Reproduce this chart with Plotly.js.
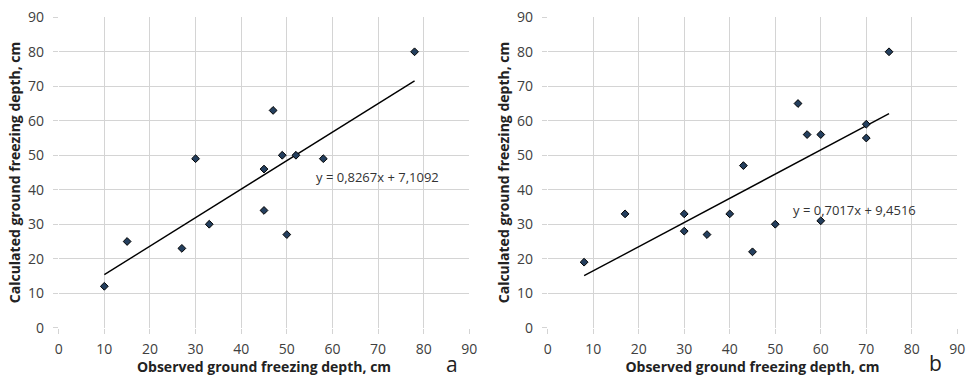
<!DOCTYPE html>
<html>
<head>
<meta charset="utf-8">
<script src="https://cdn.plot.ly/plotly-3.0.1.min.js"></script>
<style>html,body{margin:0;padding:0;background:#fff;}#chart{width:970px;height:381px;}</style>
</head>
<body>
<div id="chart"></div>
<script>
// Panel a data
const obsA = [10, 15, 27, 30, 33, 45, 45, 47, 49, 52, 50, 58, 78];
const calcA = [12, 25, 23, 49, 30, 46, 34, 63, 50, 50, 27, 49, 80];
const trendA = {slope: 0.8267, intercept: 7.1092, xFrom: 10, xTo: 78};
const eqA = "y = 0,8267x + 7,1092";

// Panel b data
const obsB = [8, 17, 30, 30, 35, 40, 43, 45, 50, 55, 57, 60, 60, 70, 70, 75];
const calcB = [19, 33, 33, 28, 27, 33, 47, 22, 30, 65, 56, 56, 31, 59, 55, 80];
const trendB = {slope: 0.7017, intercept: 9.4516, xFrom: 8, xTo: 75};
const eqB = "y = 0,7017x + 9,4516";

const tickVals = [0, 10, 20, 30, 40, 50, 60, 70, 80, 90];
const xTitle = "Observed ground freezing depth, cm";
const yTitle = "Calculated ground freezing depth, cm";
const panelLabels = ["a", "b"];

const FONT = "Open Sans, Liberation Sans, sans-serif";
const marker = {symbol: "diamond", size: 6, color: "#243f5e", line: {color: "#000", width: 1}};

function trendLine(t, xa, ya) {
  const xs = [t.xFrom, t.xTo];
  return {x: xs, y: xs.map(v => t.slope * v + t.intercept), mode: "lines",
    line: {color: "#000", width: 1.4}, xaxis: xa, yaxis: ya, hoverinfo: "skip"};
}

const data = [
  trendLine(trendA, "x", "y"),
  {x: obsA, y: calcA, mode: "markers", marker: marker, xaxis: "x", yaxis: "y"},
  trendLine(trendB, "x2", "y2"),
  {x: obsB, y: calcB, mode: "markers", marker: marker, xaxis: "x2", yaxis: "y2"}
];

function ax(domain, anchor, title, standoff, lblStandoff) {
  return {
    domain: domain, anchor: anchor, range: [0, 90], tickvals: tickVals, ticktext: tickVals.map(String),
    showgrid: true, gridcolor: "#d4d4d4", gridwidth: 1, zeroline: false, showline: false,
    ticks: "outside", ticklen: 5, tickcolor: "#d4d4d4", ticklabelstandoff: lblStandoff,
    tickfont: {family: FONT, size: 14, color: "#404040"},
    title: {text: title, font: {family: FONT, size: 14, color: "#222", weight: "bold"}, standoff: standoff},
    fixedrange: true
  };
}

const yDom = [1 - 327.7 / 381, 1 - 17.3 / 381];
const layout = {
  width: 970, height: 381, margin: {l: 0, r: 0, t: 0, b: 0},
  paper_bgcolor: "#fff", plot_bgcolor: "#fff", showlegend: false,
  xaxis: ax([58.7 / 970, 469.3 / 970], "y", xTitle, 4, 3),
  yaxis: ax(yDom, "x", yTitle, 3, 6),
  xaxis2: ax([547.7 / 970, 957.3 / 970], "y2", xTitle, 4, 3),
  yaxis2: ax(yDom, "x2", yTitle, 3, 6),
  annotations: [
    {text: eqA, xref: "x", yref: "y", x: 56, y: 43.8, xanchor: "left", yanchor: "middle", showarrow: false,
      font: {family: FONT, size: 13, color: "#333"}},
    {text: eqB, xref: "x2", yref: "y2", x: 53.5, y: 34.1, xanchor: "left", yanchor: "middle", showarrow: false,
      font: {family: FONT, size: 13, color: "#333"}},
    {text: panelLabels[0], xref: "paper", yref: "paper", x: 452 / 970, y: 1 - 380 / 381, xanchor: "center", yanchor: "bottom",
      showarrow: false, font: {family: FONT, size: 21, color: "#222"}},
    {text: panelLabels[1], xref: "paper", yref: "paper", x: 935 / 970, y: 1 - 379 / 381, xanchor: "center", yanchor: "bottom",
      showarrow: false, font: {family: FONT, size: 21, color: "#222"}}
  ]
};

Plotly.newPlot("chart", data, layout, {displayModeBar: false, staticPlot: true});
</script>
</body>
</html>
